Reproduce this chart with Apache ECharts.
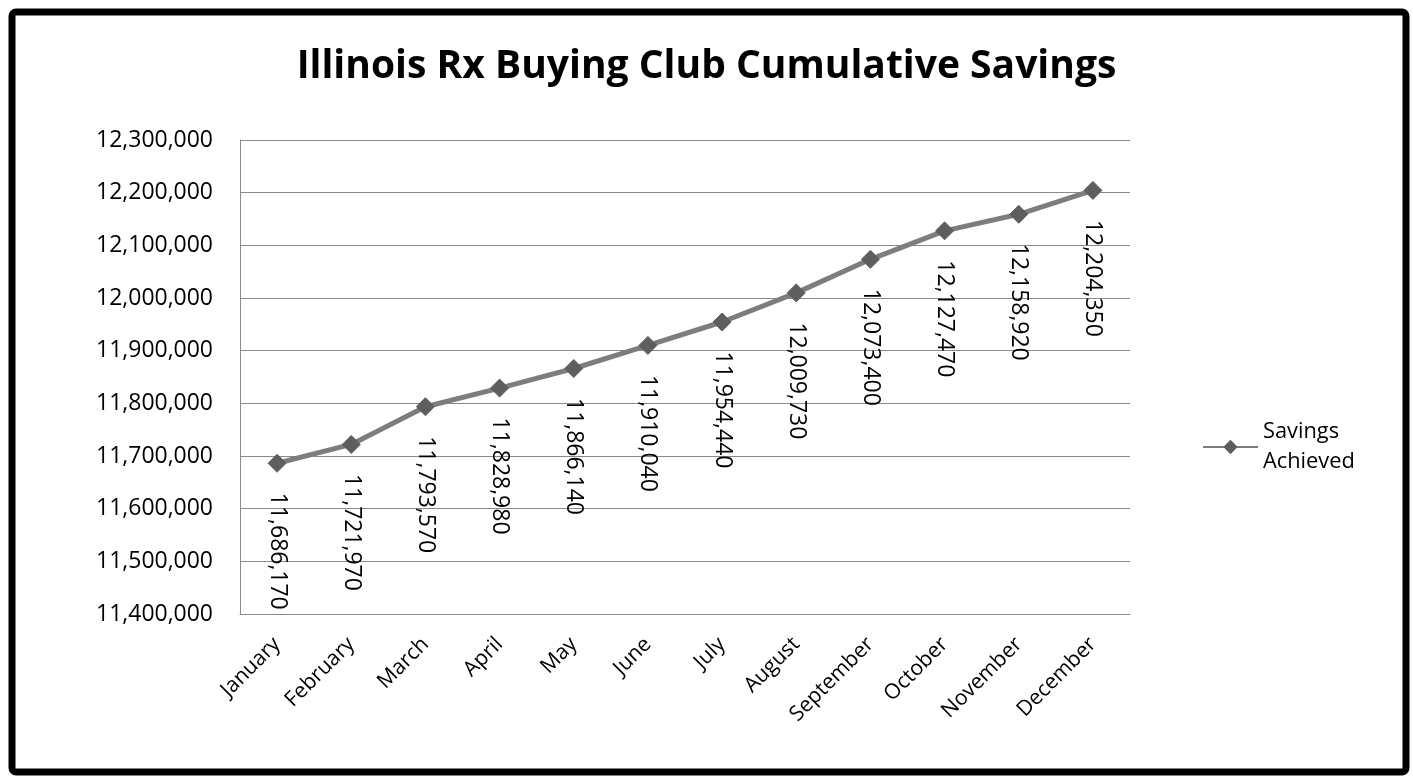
<!DOCTYPE html>
<html>
<head>
<meta charset="utf-8">
<script src="https://cdn.jsdelivr.net/npm/echarts@6/dist/echarts.min.js"></script>
<style>
html,body{margin:0;padding:0;background:#fff;}
#chart{width:1413px;height:776px;}
</style>
</head>
<body>
<div id="chart"></div>
<script>
const titleText = 'Illinois Rx Buying Club Cumulative Savings';
const seriesName = 'Savings Achieved';
const months = ['January','February','March','April','May','June','July','August','September','October','November','December'];
const savings = [11686170, 11721970, 11793570, 11828980, 11866140, 11910040, 11954440, 12009730, 12073400, 12127470, 12158920, 12204350];
const yMin = 11400000, yMax = 12300000, yStep = 100000;

const FONT = '"Open Sans", "Liberation Sans", sans-serif';
const cv = document.createElement('canvas').getContext('2d');
function fitSize(text, weight, target) {
  cv.font = weight + ' 100px ' + FONT;
  return 100 * target / cv.measureText(text).width;
}
const fmt = v => Number(v).toLocaleString('en-US');
const axisFont = fitSize('12,300,000', 'normal', 117);
const titleFont = fitSize(titleText, 'bold', 820);

const chart = echarts.init(document.getElementById('chart'), null, {renderer: 'canvas'});
chart.setOption({
  backgroundColor: '#ffffff',
  animation: false,
  textStyle: {fontFamily: FONT},
  title: {
    text: titleText,
    left: 'center',
    top: 42,
    textStyle: {fontFamily: FONT, fontWeight: 'bold', fontSize: titleFont, color: '#000'}
  },
  graphic: [{
    type: 'rect',
    shape: {x: 12, y: 12, width: 1394, height: 760, r: 4},
    style: {fill: 'none', stroke: '#000', lineWidth: 7},
    silent: true
  }],
  legend: {
    left: 1197,
    top: 397,
    orient: 'vertical',
    itemWidth: 55,
    itemHeight: 18,
    formatter: () => 'Savings\nAchieved',
    textStyle: {fontFamily: FONT, fontSize: axisFont * 0.95, color: '#000', lineHeight: 30, padding: [30, 0, 0, 0]},
    data: [seriesName]
  },
  grid: {left: 240, right: 283, top: 140, bottom: 162, containLabel: false},
  xAxis: {
    type: 'category',
    data: months,
    boundaryGap: true,
    axisLine: {show: true, lineStyle: {color: '#8a8a8a', width: 1}},
    axisTick: {show: false},
    axisLabel: {rotate: 45, margin: 27, fontFamily: FONT, fontSize: axisFont * 0.92, color: '#000', interval: 0}
  },
  yAxis: {
    type: 'value',
    min: yMin, max: yMax, interval: yStep,
    axisLine: {show: true, lineStyle: {color: '#8a8a8a', width: 1}},
    axisTick: {show: false},
    splitLine: {show: true, lineStyle: {color: '#8a8a8a', width: 1}},
    axisLabel: {formatter: v => fmt(v), margin: 27, fontFamily: FONT, fontSize: axisFont, color: '#000'}
  },
  series: [{
    name: seriesName,
    type: 'line',
    data: savings,
    symbol: 'diamond',
    symbolSize: 18,
    lineStyle: {color: '#7d7d7d', width: 5},
    itemStyle: {color: '#5e5e5e', borderColor: '#5e5e5e'},
    label: {
      show: true,
      position: 'bottom',
      distance: 20,
      rotate: -90,
      align: 'left',
      verticalAlign: 'middle',
      formatter: p => fmt(p.value),
      fontFamily: FONT,
      fontSize: axisFont,
      color: '#000'
    }
  }]
});
</script>
</body>
</html>
